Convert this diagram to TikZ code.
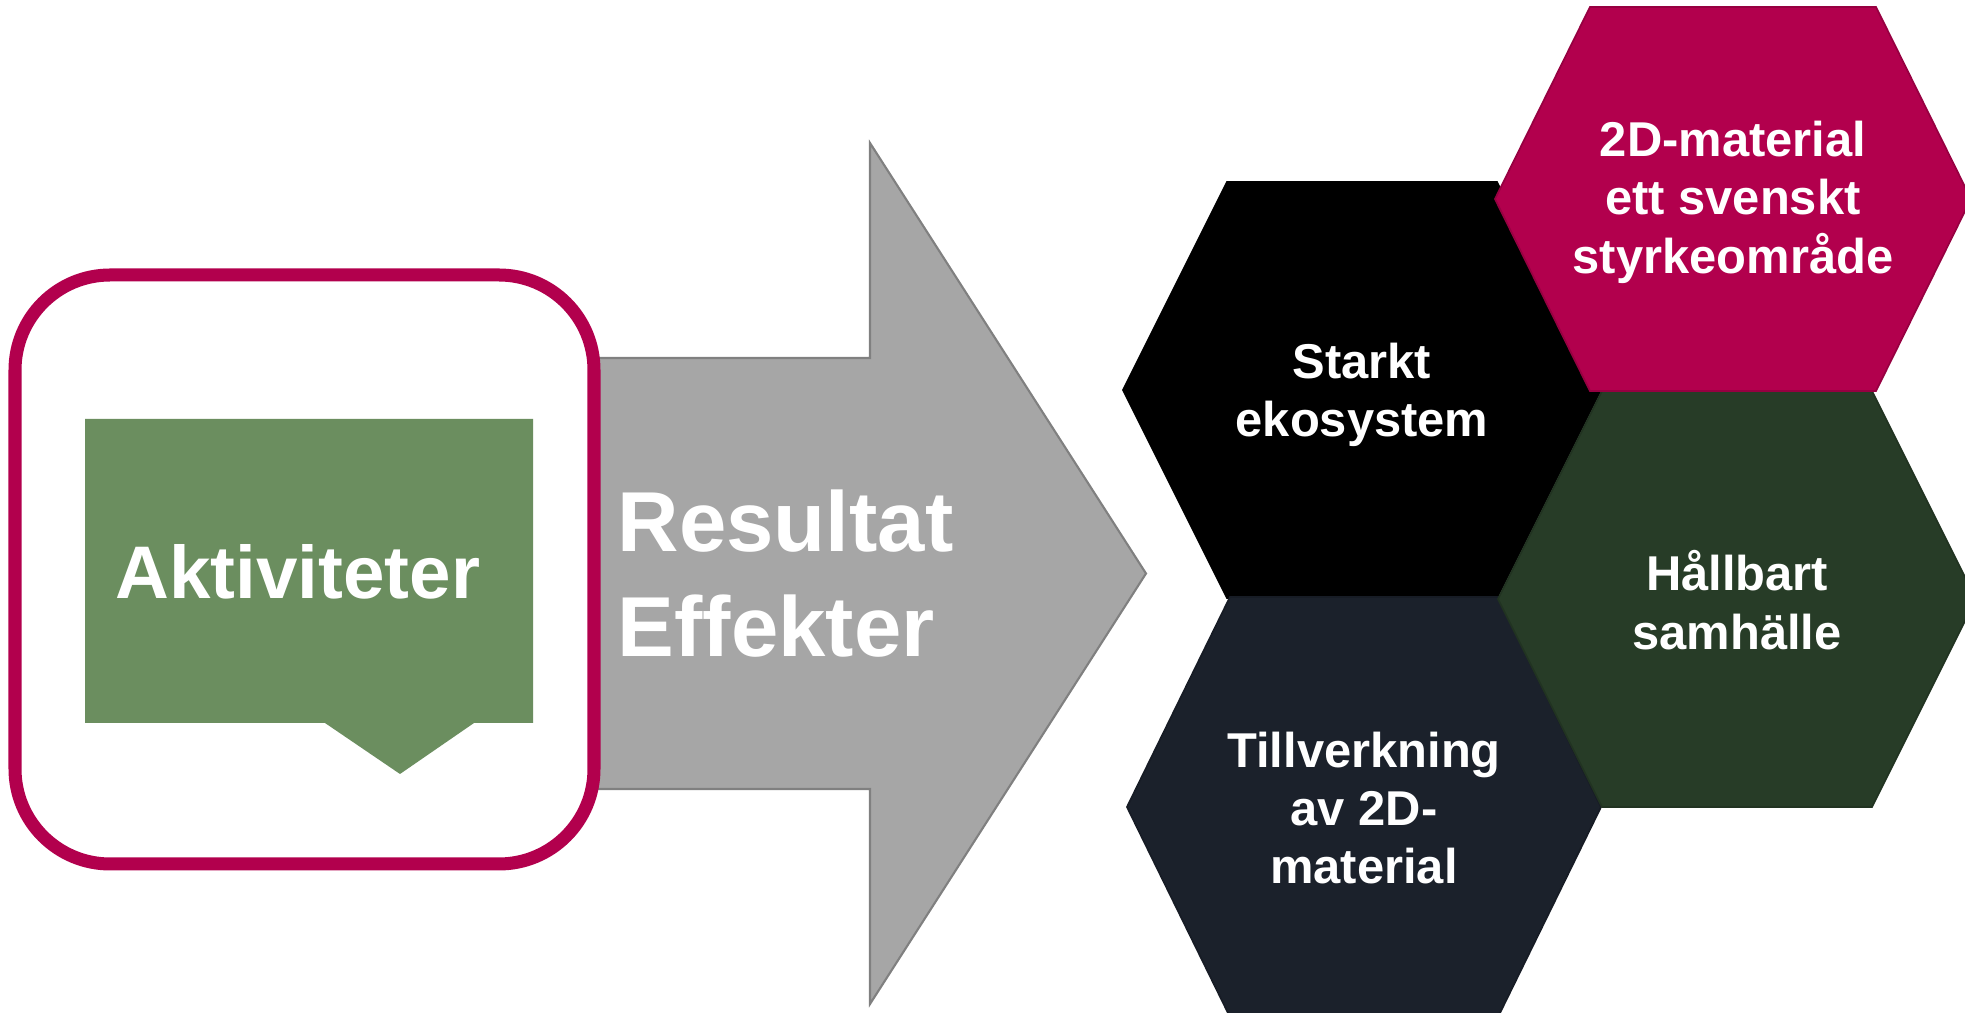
\documentclass[tikz,border=0pt]{standalone}
\usepackage{fontspec}
\setmainfont{Liberation Sans}

\definecolor{plum}{RGB}{178,0,77}
\definecolor{leaf}{RGB}{107,142,95}
\definecolor{ash}{RGB}{166,166,166}
\definecolor{ashline}{RGB}{128,128,128}
\definecolor{navy}{RGB}{27,33,43}
\definecolor{forest}{RGB}{39,60,39}

\newcommand{\hexcell}[6]{%
  \filldraw[fill=#6, draw=#6!85!black, line width=0.5pt]
    (#1-#3,#2-#5) -- (#1+#3,#2-#5) -- (#1+#4,#2) -- (#1+#3,#2+#5)
    -- (#1-#3,#2+#5) -- (#1-#4,#2) -- cycle;}

\tikzset{
  hexlabel/.style={text=white, align=center, inner sep=0pt,
    font=\fontsize{13.9}{16.6}\selectfont\bfseries},
  boxlabel/.style={text=white, inner sep=0pt,
    font=\fontsize{21.2}{25}\selectfont\bfseries},
  arrowlabel/.style={text=white, align=left, inner sep=0pt,
    font=\fontsize{24.2}{29.8}\selectfont\bfseries}
}

\begin{document}
\begin{tikzpicture}[x=0.01cm, y=-0.01cm]
  \clip (0,0) rectangle (1965,1013);

  \filldraw[fill=ash, draw=ashline, line width=0.6pt]
    (560,358) -- (870,358) -- (870,143) -- (1146,573.5)
    -- (870,1004) -- (870,789) -- (560,789) -- cycle;

  \draw[plum, line width=0.13cm, fill=white, rounded corners=0.95cm]
    (15,275) rectangle (594,864);
  \fill[leaf] (85,419) -- (533,419) -- (533,723) -- (474,723)
    -- (400,774) -- (325,723) -- (85,723) -- cycle;

  \node[boxlabel, anchor=base] (akt) at (298,599) {Aktiviteter};
  \node[arrowlabel, anchor=south west] (res) at (617,658) {Resultat\\Effekter};

  \hexcell{1362}{390}{135}{239}{208}{black}
  \hexcell{1364}{807}{134}{237}{210}{navy}
  \hexcell{1737}{599}{135}{239}{208}{forest}
  \hexcell{1733}{199}{143}{238}{192}{plum}

  \node[hexlabel] (stark) at (1362,395) {Starkt\\ekosystem};
  \node[hexlabel] (mat) at (1733,202) {2D-material\\ett svenskt\\styrkeområde};
  \node[hexlabel] (hall) at (1737,600) {Hållbart\\samhälle};
  \node[hexlabel] (till) at (1364,808) {Tillverkning\\av 2D-\\material};
\end{tikzpicture}
\end{document}
